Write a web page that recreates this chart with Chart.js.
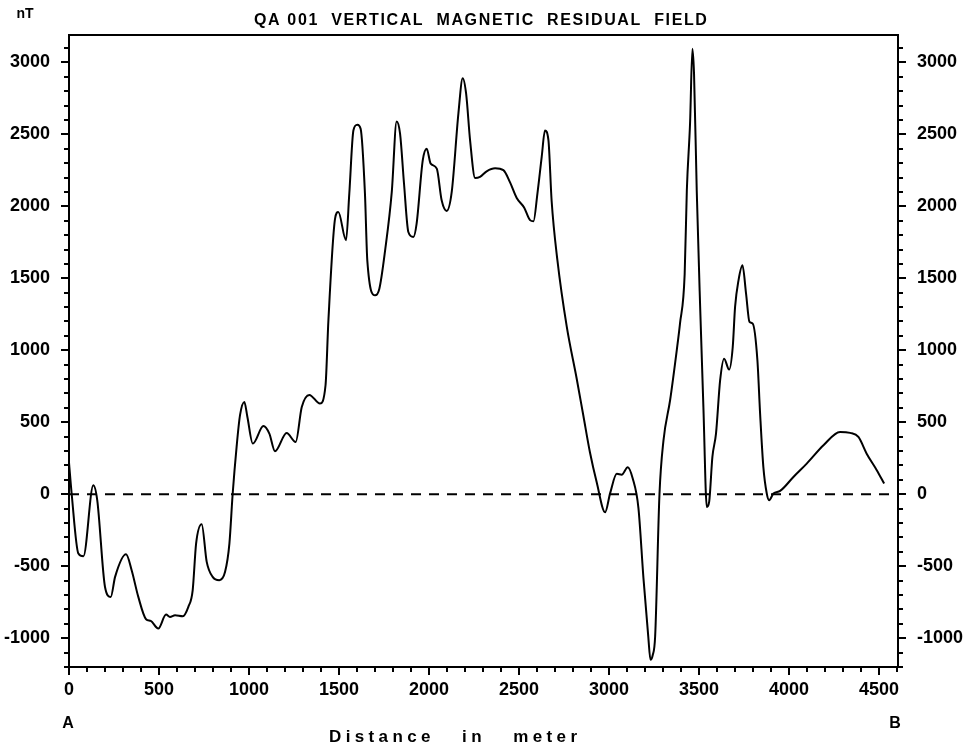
<!DOCTYPE html>
<html>
<head>
<title>QA 001 Vertical Magnetic Residual Field</title>
<script src="https://cdn.jsdelivr.net/npm/chart.js"></script>
<style>
  body { margin: 0; background: #fff; }
  #wrap { width: 971px; height: 746px; position: relative; }
</style>
</head>
<body>
<div id="wrap"><canvas id="profileChart"></canvas></div>
<script>
// profile distance (m) and residual vertical field (nT)
const distance = [0, 15, 52, 80, 135, 157, 200, 232, 256, 317, 348, 385, 428, 454, 496, 539, 561, 589, 632, 663,
  687, 706, 737, 765, 798, 835, 867, 891, 909, 931, 950, 974, 991, 1021, 1080, 1113, 1144, 1209, 1259, 1293,
  1335, 1394, 1425, 1441, 1478, 1496, 1539, 1557, 1580, 1602, 1620, 1644, 1657, 1700, 1724, 1756, 1793, 1820, 1839, 1861,
  1885, 1913, 1931, 1965, 1987, 2009, 2043, 2070, 2098, 2126, 2163, 2187, 2206, 2228, 2256, 2283, 2320, 2367, 2413, 2450,
  2487, 2528, 2561, 2580, 2602, 2626, 2644, 2663, 2681, 2713, 2765, 2820, 2857, 2894, 2931, 2978, 3006, 3043, 3070, 3104,
  3131, 3163, 3191, 3218, 3230, 3242, 3256, 3280, 3302, 3339, 3376, 3394, 3420, 3432, 3450, 3463, 3472, 3487, 3506, 3524,
  3543, 3556, 3574, 3594, 3617, 3639, 3667, 3687, 3700, 3719, 3741, 3761, 3780, 3798, 3824, 3839, 3857, 3876, 3889, 3913,
  3950, 4024, 4098, 4191, 4283, 4339, 4385, 4431, 4487, 4528];
const fieldNT = [220, 0, -412, -431, 62, -42, -644, -713, -574, -417, -528, -713, -868, -880, -933, -836, -852, -840, -847, -782,
  -667, -343, -208, -470, -574, -597, -539, -343, 0, 329, 549, 641, 537, 352, 474, 421, 299, 426, 363, 606,
  690, 630, 757, 1208, 1914, 1960, 1764, 2088, 2528, 2567, 2539, 2088, 1625, 1382, 1428, 1694, 2100, 2590, 2505, 2157,
  1822, 1787, 1880, 2319, 2400, 2296, 2262, 2042, 1968, 2100, 2644, 2890, 2782, 2458, 2197, 2205, 2243, 2264, 2251, 2166,
  2058, 1992, 1904, 1896, 2089, 2346, 2526, 2462, 2037, 1626, 1164, 804, 547, 290, 85, -125, 8, 142, 136, 188,
  111, -94, -583, -993, -1150, -1120, -986, 0, 371, 653, 1000, 1185, 1530, 2111, 2580, 3095, 2920, 2110, 1300, 606,
  -88, -53, 259, 421, 792, 942, 866, 1023, 1301, 1486, 1590, 1394, 1197, 1185, 931, 560, 190, 5, -42, 5,
  23, 120, 213, 340, 433, 426, 398, 282, 167, 74];

const zeroLineX = [0, 4605];
const zeroLineY = [0, 0];

const xMajorTicks = [0, 500, 1000, 1500, 2000, 2500, 3000, 3500, 4000, 4500];
const yMajorTicks = [-1000, -500, 0, 500, 1000, 1500, 2000, 2500, 3000];

const X_MIN = 0, X_MAX = 4605, Y_MIN = -1200, Y_MAX = 3190, MINOR = 100;

const labelFont = { family: '"Liberation Sans", Arial, sans-serif', size: 18, weight: 'bold' };

// tick every 100 between the bounds; labels only on the majors
function tickList(lo, hi) {
  const out = [];
  for (let v = Math.ceil(lo / MINOR) * MINOR; v <= hi; v += MINOR) out.push({ value: v });
  return out;
}

function yAxis(position, width) {
  return {
    type: 'linear',
    position: position,
    min: Y_MIN,
    max: Y_MAX,
    afterFit: function(scale) { scale.width = width; },
    afterBuildTicks: function(scale) { scale.ticks = tickList(Y_MIN, Y_MAX); },
    grid: { display: false, drawTicks: false },
    border: { display: false },
    ticks: {
      autoSkip: false,
      padding: 19,
      color: '#000',
      font: labelFont,
      callback: function(v) { return yMajorTicks.includes(v) ? String(v) : ''; }
    }
  };
}

function fitText(ctx, text, left, right, y) {
  ctx.letterSpacing = '0px';
  const w = ctx.measureText(text).width;
  const gap = (right - left - w) / (text.length - 1);
  ctx.letterSpacing = gap.toFixed(2) + 'px';
  ctx.textAlign = 'left';
  ctx.fillText(text, left, y);
  ctx.letterSpacing = '0px';
}

// frame, tick marks and the free text of the sheet
const sheet = {
  id: 'sheet',
  afterDraw: function(chart) {
    const ctx = chart.ctx;
    const a = chart.chartArea;
    const xs = chart.scales.x, ys = chart.scales.y;
    ctx.save();
    ctx.strokeStyle = '#000';
    ctx.lineWidth = 2;
    ctx.strokeRect(a.left, a.top, a.right - a.left, a.bottom - a.top);

    ctx.beginPath();
    xs.ticks.forEach(function(t) {
      const px = Math.round(xs.getPixelForValue(t.value));
      const len = t.value % 500 === 0 ? 8 : 5;
      ctx.moveTo(px, a.bottom);
      ctx.lineTo(px, a.bottom + len);
    });
    ys.ticks.forEach(function(t) {
      const py = Math.round(ys.getPixelForValue(t.value));
      const len = t.value % 500 === 0 ? 8 : 5;
      ctx.moveTo(a.left, py);
      ctx.lineTo(a.left - len, py);
      ctx.moveTo(a.right, py);
      ctx.lineTo(a.right + len, py);
    });
    ctx.stroke();

    ctx.fillStyle = '#000';
    ctx.textBaseline = 'middle';
    ctx.font = 'bold 16px "Liberation Sans", Arial, sans-serif';
    fitText(ctx, 'QA 001  VERTICAL  MAGNETIC  RESIDUAL  FIELD', 254, 707, 21);
    ctx.font = 'bold 17px "Liberation Sans", Arial, sans-serif';
    fitText(ctx, 'Distance   in   meter', 329, 577, 737);
    ctx.textAlign = 'center';
    ctx.font = 'bold 14px "Liberation Sans", Arial, sans-serif';
    ctx.fillText('nT', 25, 14);
    ctx.font = 'bold 16px "Liberation Sans", Arial, sans-serif';
    ctx.fillText('A', 68, 724);
    ctx.fillText('B', 895, 724);
    ctx.restore();
  }
};

new Chart(document.getElementById('profileChart'), {
  type: 'line',
  data: {
    datasets: [{
      data: distance.map(function(d, i) { return { x: d, y: fieldNT[i] }; }),
      borderColor: '#000',
      borderWidth: 2,
      pointRadius: 0,
      cubicInterpolationMode: 'monotone',
      fill: false
    }, {
      data: zeroLineX.map(function(d, i) { return { x: d, y: zeroLineY[i] }; }),
      borderColor: '#000',
      borderWidth: 2,
      borderDash: [10, 8],
      pointRadius: 0,
      fill: false
    }]
  },
  options: {
    responsive: true,
    maintainAspectRatio: false,
    animation: false,
    layout: { padding: { top: 35, left: 0, right: 0, bottom: 0 } },
    plugins: { legend: { display: false }, tooltip: { enabled: false } },
    scales: {
      x: {
        type: 'linear',
        min: X_MIN,
        max: X_MAX,
        afterFit: function(scale) { scale.height = 79; },
        afterBuildTicks: function(scale) { scale.ticks = tickList(X_MIN, X_MAX); },
        grid: { display: false, drawTicks: false },
        border: { display: false },
        ticks: {
          autoSkip: false,
          maxRotation: 0,
          padding: 12,
          color: '#000',
          font: labelFont,
          callback: function(v) { return xMajorTicks.includes(v) ? String(v) : ''; }
        }
      },
      y: yAxis('left', 69),
      y2: yAxis('right', 73)
    }
  },
  plugins: [sheet]
});
</script>
</body>
</html>
